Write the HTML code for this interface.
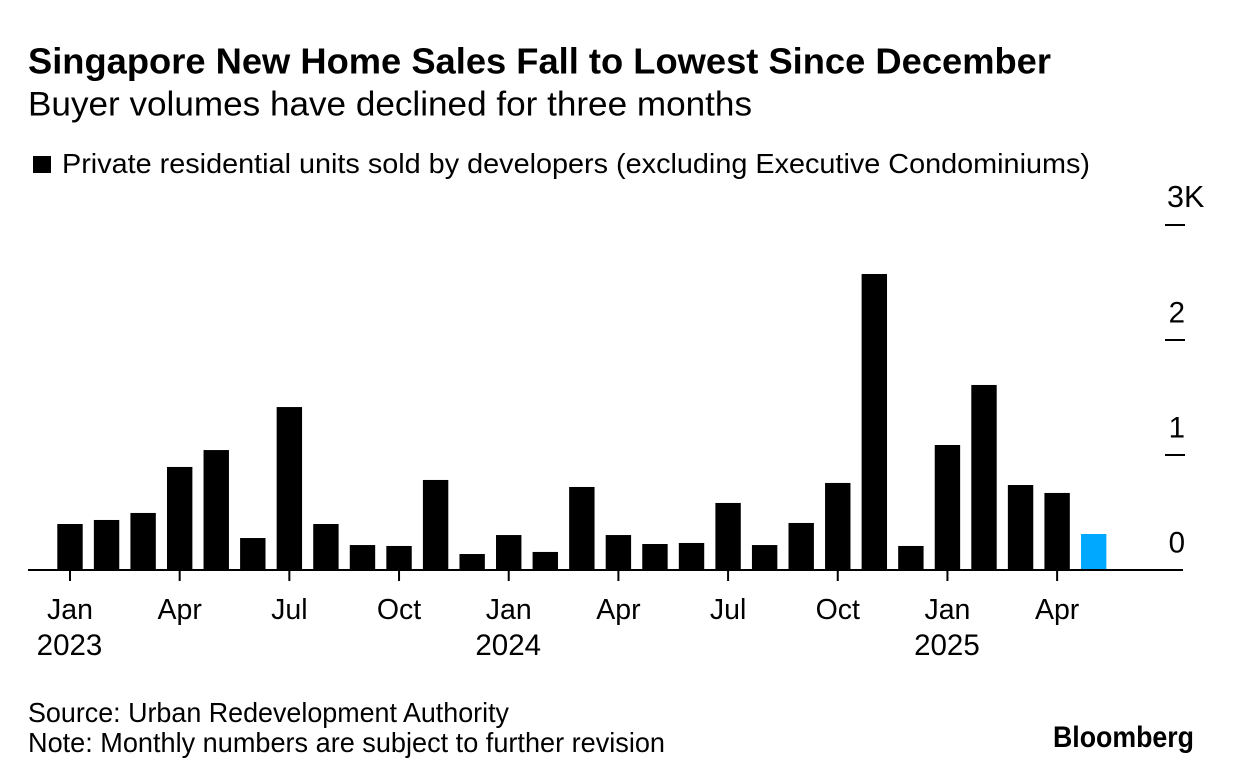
<!DOCTYPE html>
<html lang="en">
<head>
<meta charset="utf-8">
<title>Singapore New Home Sales Fall to Lowest Since December</title>
<style>
html,body{margin:0;padding:0;background:#fff;}
svg{display:block;}
text{font-family:"Liberation Sans",Arial,sans-serif;fill:#000;}
</style>
</head>
<body>
<svg id="chart" width="1233" height="782" viewBox="0 0 1233 782" xmlns="http://www.w3.org/2000/svg">
  <rect x="0" y="0" width="1233" height="782" fill="#fff"/>
  <text x="28" y="73.7" font-size="36.5" font-weight="700" textLength="1023" lengthAdjust="spacingAndGlyphs">Singapore New Home Sales Fall to Lowest Since December</text>
  <text x="28" y="115.7" font-size="34" textLength="724" lengthAdjust="spacingAndGlyphs">Buyer volumes have declined for three months</text>
  <rect x="33" y="156" width="18" height="17" fill="#000"/>
  <text x="62" y="173" font-size="28" textLength="1028" lengthAdjust="spacingAndGlyphs">Private residential units sold by developers (excluding Executive Condominiums)</text>
  <g id="bars"></g>
  <g id="x-axis"></g>
  <g id="y-axis"></g>
  <text x="28" y="722" font-size="27.5" textLength="481" lengthAdjust="spacingAndGlyphs">Source: Urban Redevelopment Authority</text>
  <text x="28" y="752" font-size="27.5" textLength="637" lengthAdjust="spacingAndGlyphs">Note: Monthly numbers are subject to further revision</text>
  <text x="1053" y="747" font-size="30" font-weight="700" textLength="141" lengthAdjust="spacingAndGlyphs">Bloomberg</text>
</svg>
<script>
const months = ["Jan 2023","Feb 2023","Mar 2023","Apr 2023","May 2023","Jun 2023","Jul 2023","Aug 2023","Sep 2023","Oct 2023","Nov 2023","Dec 2023","Jan 2024","Feb 2024","Mar 2024","Apr 2024","May 2024","Jun 2024","Jul 2024","Aug 2024","Sep 2024","Oct 2024","Nov 2024","Dec 2024","Jan 2025","Feb 2025","Mar 2025","Apr 2025","May 2025"];
const unitsSold = [400,435,496,896,1043,278,1417,400,217,209,783,139,304,157,722,304,226,235,583,217,409,757,2574,209,1087,1609,739,670,313];
const yTickValues = [0,1000,2000,3000];
const yTickLabels = ["0","1","2","3K"];
const xTickMonths = ["Jan","Apr","Jul","Oct","Jan","Apr","Jul","Oct","Jan","Apr"];
const xTickYears = ["2023","","","","2024","","","","2025",""];
const xTickIndexes = [0,3,6,9,12,15,18,21,24,27];

const NS = "http://www.w3.org/2000/svg";
function xScale(i){ return 70 + i * 36.56; }
function yScale(v){ return 570 - v * 0.115; }
function make(tag, attrs, parent, text){
  const el = document.createElementNS(NS, tag);
  Object.keys(attrs).forEach(function(k){ el.setAttribute(k, attrs[k]); });
  if (text !== undefined) el.textContent = text;
  parent.appendChild(el);
  return el;
}
const barsG = document.getElementById("bars");
const xG = document.getElementById("x-axis");
const yG = document.getElementById("y-axis");

unitsSold.forEach(function(v, i){
  const y = yScale(v);
  const bar = make("rect", {x: xScale(i) - 12.7, y: y, width: 25.4, height: 570 - y, fill: i === unitsSold.length - 1 ? "#00a8ff" : "#000"}, barsG);
  
  
});

const axisLine = make("line", {x1: 28, x2: 1183, y1: 570, y2: 570, stroke: "#000", "stroke-width": 2}, xG);



xTickIndexes.forEach(function(idx, k){
  const x = xScale(idx);
  const tick = make("line", {x1: x, x2: x, y1: 570, y2: 581, stroke: "#000", "stroke-width": 2}, xG);
  
  
  const label = make("text", {x: x, y: 619, "font-size": 28.5, "text-anchor": "middle"}, xG, xTickMonths[k]);
  
  
  if (xTickYears[k]) {
    const year = make("text", {x: x - 0.5, y: 655, "font-size": 29.5, "text-anchor": "middle"}, xG, xTickYears[k]);
    
    
  }
});

yTickValues.forEach(function(v, i){
  const y = yScale(v);
  if (v !== 0) {
    const tick = make("line", {x1: 1165, x2: 1185, y1: y, y2: y, stroke: "#000", "stroke-width": 2}, yG);
    
    
  }
  const lab = yTickLabels[i];
  const label = make("text", lab.length > 1
    ? {x: 1167, y: y - 18, "font-size": 30.5, "text-anchor": "start"}
    : {x: 1185, y: y - 17.5, "font-size": 29.5, "text-anchor": "end"}, yG, lab);
  
  
});
</script>
</body>
</html>
